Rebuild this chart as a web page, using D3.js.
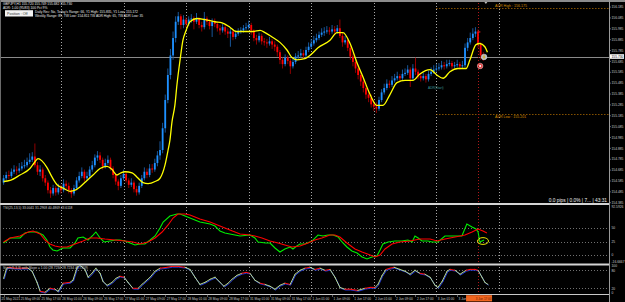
<!DOCTYPE html>
<html>
<head>
<meta charset="utf-8">
<script src="https://cdn.jsdelivr.net/npm/d3@7"></script>
<style>
body{margin:0;background:#000;}
svg{display:block;font-family:"Liberation Sans",Arial,sans-serif;}
</style>
</head>
<body>
<script>
// GBPJPY H1 bars, open of each bar = previous close
var firstOpen = 154.57;
var closes = [154.61,154.64,154.63,154.67,154.69,154.68,154.70,154.72,154.73,154.76,
154.78,154.81,154.73,154.67,154.69,154.61,154.57,154.50,154.47,154.52,
154.48,154.52,154.50,154.56,154.54,154.50,154.47,154.52,154.59,154.63,
154.67,154.61,154.63,154.69,154.73,154.80,154.82,154.78,154.72,154.75,
154.78,154.70,154.64,154.58,154.54,154.61,154.65,154.59,154.55,154.57,
154.51,154.48,154.54,154.61,154.67,154.64,154.70,154.69,154.75,154.82,
154.87,155.07,155.33,155.56,155.74,155.90,156.05,156.10,156.02,156.07,
156.03,156.07,156.08,156.05,156.08,156.02,156.00,156.08,156.05,156.01,
156.05,156.03,155.99,155.97,156.00,155.96,155.94,155.96,155.91,155.94,
155.96,155.97,155.99,156.00,156.02,155.97,155.90,155.88,155.92,155.87,
155.86,155.85,155.87,155.84,155.82,155.77,155.70,155.66,155.72,155.69,
155.64,155.68,155.73,155.74,155.76,155.74,155.79,155.82,155.85,155.88,
155.90,155.93,155.95,155.96,155.97,155.96,155.98,155.96,155.99,155.92,
155.86,155.88,155.81,155.73,155.68,155.62,155.56,155.50,155.44,155.38,
155.35,155.29,155.27,155.25,155.33,155.40,155.44,155.48,155.47,155.51,
155.53,155.55,155.53,155.57,155.58,155.61,155.53,155.62,155.59,155.55,
155.53,155.55,155.52,155.57,155.59,155.61,155.62,155.63,155.65,155.64,
155.66,155.67,155.64,155.65,155.66,155.64,155.65,155.81,155.86,155.90,
155.94,155.96,155.84,155.74,155.72,155.73];
var highs = [154.64,154.67,154.68,154.70,154.73,154.72,154.75,154.76,154.78,154.80,
154.84,154.85,154.93,154.76,154.73,154.71,154.64,154.59,154.53,154.55,
154.54,154.56,154.55,154.60,154.59,154.57,154.52,154.55,154.62,154.67,
154.71,154.69,154.67,154.72,154.77,154.83,154.86,154.85,154.80,154.79,
154.82,154.80,154.72,154.66,154.60,154.64,154.69,154.67,154.61,154.61,
154.59,154.54,154.57,154.64,154.71,154.70,154.74,154.74,154.79,154.86,
154.95,155.12,155.38,155.62,155.80,155.96,156.10,156.14,156.12,156.11,
156.09,156.10,156.12,156.10,156.13,156.09,156.05,156.14,156.10,156.07,
156.08,156.08,156.05,156.02,156.03,156.02,155.99,155.99,155.98,155.97,
155.99,156.00,156.02,156.04,156.06,156.04,155.98,155.93,155.95,155.94,
155.90,155.89,155.91,155.89,155.87,155.84,155.79,155.72,155.75,155.74,
155.71,155.71,155.76,155.78,155.80,155.79,155.82,155.86,155.89,155.92,
155.94,155.96,155.99,156.00,156.01,156.00,156.02,156.01,156.02,156.07,
155.95,155.92,155.90,155.83,155.76,155.70,155.65,155.59,155.53,155.47,
155.42,155.38,155.33,155.31,155.36,155.43,155.48,155.52,155.51,155.55,
155.57,155.59,155.57,155.61,155.62,155.65,155.63,155.66,155.72,155.61,
155.58,155.58,155.57,155.60,155.63,155.65,155.66,155.67,155.69,155.68,
155.70,155.70,155.69,155.68,155.70,155.68,155.69,155.85,155.90,155.95,
155.99,156.00,155.98,155.86,155.77,155.75];
var lows = [154.55,154.59,154.60,154.61,154.65,154.64,154.66,154.68,154.70,154.71,
154.74,154.76,154.71,154.64,154.63,154.58,154.54,154.47,154.43,154.45,
154.45,154.46,154.47,154.48,154.51,154.47,154.43,154.45,154.50,154.57,
154.61,154.58,154.59,154.61,154.67,154.71,154.77,154.75,154.69,154.70,
154.73,154.68,154.61,154.55,154.50,154.52,154.59,154.57,154.52,154.53,
154.48,154.45,154.46,154.52,154.59,154.61,154.62,154.66,154.67,154.72,
154.78,154.84,155.03,155.30,155.52,155.70,155.86,156.02,155.98,155.99,
156.00,156.01,156.04,155.98,156.03,155.99,155.96,155.98,156.02,155.98,
155.91,156.00,155.96,155.93,155.95,155.93,155.90,155.82,155.88,155.89,
155.92,155.94,155.95,155.97,155.98,155.93,155.87,155.84,155.86,155.84,
155.83,155.81,155.83,155.80,155.78,155.73,155.66,155.62,155.64,155.66,
155.57,155.62,155.66,155.70,155.72,155.71,155.72,155.77,155.80,155.83,
155.86,155.88,155.91,155.92,155.94,155.93,155.94,155.93,155.94,155.90,
155.82,155.84,155.78,155.70,155.64,155.58,155.52,155.46,155.40,155.34,
155.31,155.26,155.23,155.21,155.23,155.31,155.38,155.42,155.44,155.45,
155.49,155.51,155.50,155.51,155.55,155.56,155.45,155.51,155.56,155.52,
155.50,155.51,155.49,155.50,155.55,155.57,155.59,155.60,155.61,155.61,
155.62,155.64,155.61,155.62,155.63,155.61,155.62,155.63,155.78,155.84,
155.88,155.91,155.81,155.70,155.69,155.71];

// yellow moving average, [bar, price]
var maPoints = [[0,154.58],[2.5,154.59],[6.3,154.64],[10.1,154.70],[12,154.76],[13.2,154.79],[14.7,154.77],
[16.6,154.71],[18.6,154.62],[20.5,154.55],[22.8,154.52],[25.5,154.49],[27.4,154.50],[29.3,154.53],
[32,154.59],[34.3,154.64],[37,154.70],[39.7,154.72],[41.6,154.69],[43.5,154.64],[45,154.66],
[46.6,154.67],[49.3,154.66],[51.2,154.62],[53.5,154.57],[55.4,154.56],[58.1,154.58],[60,154.61],
[61.9,154.73],[63.1,154.87],[63.8,154.96],[64.6,155.13],[65.7,155.28],[66.5,155.47],[67.7,155.70],
[68.8,155.88],[70,155.97],[71.5,156.05],[74.2,156.08],[77.3,156.07],[81.1,156.05],[83.8,156.04],
[86.8,156.00],[89.1,155.96],[92.6,155.96],[95.7,155.96],[98.4,155.97],[100.3,155.95],[103,155.91],
[106,155.86],[108.7,155.79],[110.6,155.72],[112.5,155.70],[115.6,155.71],[117.5,155.74],[120.6,155.81],
[125.2,155.88],[127.9,155.95],[130.2,155.95],[132.9,155.85],[135.6,155.67],[137.9,155.54],[140.6,155.38],
[143.2,155.28],[145.5,155.28],[148.2,155.38],[150.9,155.49],[154,155.51],[157,155.51],[159.7,155.57],
[163.6,155.61],[166.2,155.56],[168.6,155.53],[171.2,155.59],[174.3,155.62],[177.4,155.62],[178.9,155.70],
[181.2,155.84],[182.7,155.85],[184.6,155.82],[185.6,155.77]];

// TSI panel, [bar, value]
var tsiMain = [[0,22.2],[2.5,31.5],[6.3,31.5],[8.2,40.7],[10.1,42.6],[12.8,42.6],[15.1,37],[16.6,27.8],
[17.8,14.8],[18.9,9.3],[20.5,7.4],[22.8,13],[25.5,13],[27.4,22.2],[28.5,31.5],[30.5,33.3],[32.4,27.8],
[34.3,37],[35.4,42.6],[37,31.5],[38.5,24.1],[40.8,25.9],[43.1,27.8],[44.6,27.8],[46.6,25.9],[48.5,22.2],
[50.4,18.5],[52.3,20.4],[54.2,20.4],[56.2,27.8],[58.1,35.2],[60,50],[61.2,61.1],[63.8,72.2],[66.5,75.9],
[67.7,75.9],[69.6,72.2],[71.5,68.5],[73.4,64.8],[75.3,61.1],[77.3,59.3],[79.2,57.4],[81.1,53.7],[83,44.4],
[84.9,40.7],[86.8,38.9],[90.7,35.2],[94.5,37],[96.4,31.5],[97.6,24.1],[100.6,22.2],[102.2,22.2],[104.1,13],
[106,5.6],[107.9,11.1],[109.9,14.8],[111,11.1],[112.5,16.7],[113.7,20.4],[115.6,20.4],[118.3,25.9],
[120.6,37],[122.5,35.2],[124.4,37],[126.4,37],[128.3,33.3],[129.8,24.1],[131.7,14.8],[133.6,7.4],
[135.6,3.7],[137.5,-3.7],[139.4,-7.4],[141.3,-3.7],[143.2,-1.9],[144.4,9.3],[145.5,20.4],[147.5,24.1],
[150.1,25.9],[152.8,25.9],[155.1,27.8],[156.7,24.1],[157.8,35.2],[159,31.5],[160.5,25.9],[162.8,25.9],
[164.3,24.1],[166.6,24.1],[169.3,35.2],[173.2,35.2],[175.8,35.2],[177.7,57.4],[179.7,51.9],[181.2,48.1],
[182,42.6],[182.7,24.1],[184.3,27.8]];
var tsiSignal = [[0,24.1],[2.5,31.5],[6.3,35.2],[9.4,42.6],[11.3,44.4],[14,38.9],[15.9,27.8],[17.8,20.4],
[19.7,16.7],[21.6,14.8],[24.3,14.8],[27.4,20.4],[30.5,25.9],[33.1,31.5],[35.8,31.5],[38.9,29.6],[42.7,27.8],
[46.6,25.9],[49.6,24.1],[52.3,20.4],[55.4,24.1],[58.1,31.5],[60.8,42.6],[63.1,55.6],[65,68.5],[66.9,75.9],
[69.6,75.9],[71.5,74.1],[73.4,70.4],[75.3,66.7],[79.2,61.1],[83,53.7],[86.8,46.3],[90.7,38.9],[94.5,37],
[96.4,35.2],[99.1,31.5],[102.2,25.9],[105.3,22.2],[107.9,18.5],[110.6,14.8],[113.7,16.7],[116.8,22.2],
[119.4,27.8],[122.1,31.5],[125.2,37],[127.1,37],[129,33.3],[131.7,22.2],[134.8,11.1],[137.5,5.6],
[140.6,0],[142.5,-3.7],[144.4,0],[146.3,11.1],[149,20.4],[152,24.1],[155.9,25.9],[159.7,29.6],[163.6,29.6],
[166.2,25.9],[169.3,29.6],[173.2,33.3],[177,37],[179.7,42.6],[182,48.1],[183.9,44.4],[185.4,40.7]];
var tsiLevels = [50, 25, 0];

// Stochastic panel, [bar, value]
var stochMain = [[0,53],[1,83],[1.7,90],[4.4,87],[7.1,87],[9.4,87],[10.9,77],[12.8,40],[14,10],[15.9,7],
[17.8,20],[19.7,17],[20.9,10],[22.8,37],[25.5,40],[26.6,47],[28.2,90],[29.3,97],[31.2,83],[32.4,57],
[33.9,70],[35.4,87],[37,70],[38.1,43],[39.7,30],[41.6,40],[43.1,53],[44.6,60],[46.2,57],[47.7,40],
[49.6,20],[51.6,20],[53.1,33],[56.2,57],[58.1,77],[60,87],[62.7,90],[64.6,93],[66.9,93],[69.6,90],
[71.5,83],[73.4,57],[75.3,33],[77.3,40],[79.2,50],[81.1,57],[83,40],[84.5,27],[86.1,37],[87.6,50],
[89.5,63],[91.4,70],[93,73],[94.5,70],[96.4,47],[98.4,37],[100.3,33],[102.2,27],[104.1,17],[106,30],
[107.9,37],[109.9,33],[111.8,67],[113.7,80],[115.6,87],[117.5,90],[119.4,83],[121.4,87],[123.3,80],
[125.2,83],[127.1,57],[129,23],[130.9,17],[132.9,17],[135.9,13],[138.6,20],[140.6,23],[142.5,23],
[143.6,33],[145.2,63],[146.7,83],[148.2,87],[149.8,90],[152,83],[154,77],[155.9,67],[157.8,80],
[159.7,70],[161.6,67],[163.6,57],[165.5,30],[166.6,23],[168.2,43],[170.1,77],[171.2,83],[173.2,80],
[175.1,67],[177.4,80],[178.9,83],[180.8,83],[182,80],[183.5,57],[184.6,40],[185.8,33]];
var stochLevels = [80, 20];

var priceTicks = [156.185,156.085,155.985,155.885,155.785,155.685,155.585,155.485,155.385,155.285,
155.185,155.085,154.985,154.885,154.785,154.685,154.585,154.485,154.385];
var gridBars = [22,46,70,94,118,142,166,190];
var timeLabels = [[0,"25 May 2021"],[6,"25 May 09:00"],[14,"25 May 17:00"],[22,"26 May 01:00"],
[30,"26 May 09:00"],[38,"26 May 17:00"],[46,"27 May 01:00"],[54,"27 May 09:00"],[62,"27 May 17:00"],
[70,"28 May 01:00"],[78,"28 May 09:00"],[86,"28 May 17:00"],[94,"31 May 01:00"],[102,"31 May 09:00"],
[110,"31 May 17:00"],[118,"1 Jun 01:00"],[126,"1 Jun 09:00"],[134,"1 Jun 17:00"],[142,"2 Jun 01:00"],
[150,"2 Jun 09:00"],[158,"2 Jun 17:00"],[166,"3 Jun 01:00"],[174,"3 Jun 09:00"]];
var adrHigh = 156.175, adrLow = 155.201, adrStartBar = 166;
var markerBar = 182, markerLabel = "3 Jun 17:00";

var W = 625, H = 302, right = 609;

var x = d3.scaleLinear().domain([0, 232]).range([3.6, 608.4]);
var y = d3.scaleLinear().domain([154.41, 156.25]).range([200, 0]);
var yTsi = d3.scaleLinear().domain([0, 50]).range([255, 228]);
var yStoch = d3.scaleLinear().domain([0, 100]).range([294.3, 264.3]);

var svg = d3.select("body").append("svg").attr("width", W).attr("height", H);
svg.append("rect").attr("width", W).attr("height", H).attr("fill", "#000");

var defs = svg.append("defs");
function clip(id, y0, h){
  defs.append("clipPath").attr("id", id).append("rect")
    .attr("x", 0).attr("y", y0).attr("width", right).attr("height", h);
}
clip("cMain", 4, 199); clip("cTsi", 205, 59); clip("cSto", 265.5, 28.5);

// vertical grid, all panels
svg.append("g").selectAll("line").data(gridBars).join("line")
  .attr("x1", d => Math.round(x(d)) + 0.5).attr("x2", d => Math.round(x(d)) + 0.5)
  .attr("y1", 3).attr("y2", 294)
  .attr("stroke", "#a8a8a8").attr("stroke-dasharray", "1,2");

var main = svg.append("g").attr("clip-path", "url(#cMain)");

// ADR lines
[adrHigh, adrLow].forEach(function(v){
  main.append("line").attr("x1", x(adrStartBar)).attr("x2", right)
    .attr("y1", Math.round(y(v)) + 0.5).attr("y2", Math.round(y(v)) + 0.5)
    .attr("stroke", "#c87a00").attr("stroke-dasharray", "1,2");
});
main.append("text").attr("x", 495).attr("y", y(adrHigh) - 0.8).attr("font-size", 3.6)
  .attr("fill", "#d98c00").text("ADR High : " + adrHigh.toFixed(3));
main.append("text").attr("x", 495).attr("y", y(adrLow) + 3.5).attr("font-size", 3.6)
  .attr("fill", "#d98c00").text("ADR Low : " + adrLow.toFixed(3));
main.append("text").attr("x", 428).attr("y", 89).attr("font-size", 3.2)
  .attr("fill", "#3a9a9a").text("ADR(Start)");

// bid line
var last = closes[closes.length - 1];
main.append("line").attr("x1", 0).attr("x2", right)
  .attr("y1", Math.round(y(last)) + 0.5).attr("y2", Math.round(y(last)) + 0.5)
  .attr("stroke", "#8a8a8a");

// marker vertical
svg.append("line").attr("x1", Math.round(x(markerBar)) + 0.5).attr("x2", Math.round(x(markerBar)) + 0.5)
  .attr("y1", 3).attr("y2", 294).attr("stroke", "#b01818").attr("stroke-dasharray", "1,2");

// candles
var bars = closes.map(function(c, i){
  return {i: i, o: i ? closes[i - 1] : firstOpen, c: c, h: highs[i], l: lows[i]};
});
var cg = main.append("g");
cg.selectAll("line").data(bars).join("line")
  .attr("x1", d => x(d.i)).attr("x2", d => x(d.i))
  .attr("y1", d => y(d.h)).attr("y2", d => y(d.l))
  .attr("stroke", d => d.c >= d.o ? "#1b5fa8" : "#a00000").attr("stroke-width", 0.9);
cg.selectAll("rect").data(bars).join("rect")
  .attr("x", d => x(d.i) - 0.9).attr("width", 1.8)
  .attr("y", d => y(Math.max(d.o, d.c)))
  .attr("height", d => Math.max(1, Math.abs(y(d.o) - y(d.c))))
  .attr("fill", d => d.c >= d.o ? "#1e90ff" : "#ff0000");

// moving average
main.append("path").datum(maPoints)
  .attr("d", d3.line().x(d => x(d[0])).y(d => y(d[1])).curve(d3.curveMonotoneX))
  .attr("fill", "none").attr("stroke", "#ffff00").attr("stroke-width", 1.3);

// trade marks
main.append("line").attr("x1", x(182.5) - 1).attr("x2", x(182.5) + 1)
  .attr("y1", y(155.956)).attr("y2", y(155.956)).attr("stroke", "#ff2020");
main.append("circle").attr("cx", x(184.3)).attr("cy", y(155.726)).attr("r", 2.8)
  .attr("fill", "#b8b8b8").attr("stroke", "#e8e8e8").attr("stroke-width", 0.5);
main.append("rect").attr("x", x(184.3) - 0.6).attr("y", y(155.726) - 1.4).attr("width", 1.2).attr("height", 2.8)
  .attr("fill", "#e0b000");
main.append("circle").attr("cx", x(182.8)).attr("cy", y(155.643)).attr("r", 2.8)
  .attr("fill", "#e04848").attr("stroke", "#f0c0c0").attr("stroke-width", 0.5);
main.append("circle").attr("cx", x(182.8)).attr("cy", y(155.643)).attr("r", 1)
  .attr("fill", "#fff");

// top-left info
var info = svg.append("g").attr("font-size", 3.3).attr("fill", "#e8e8e8");
info.append("text").attr("x", 3).attr("y", 4.5).text("GBPJPY,H1  155.720 155.749 155.682 155.730");
info.append("text").attr("x", 3).attr("y", 8.8).text("ADR: 1.00 (95/83) 100 Pct 9%");
info.append("text").attr("x", 35).attr("y", 13).text("Daily Rec: No, Today's Range: 66, Y1 High: 155.835, Y1 Low: 155.172");
info.append("text").attr("x", 35).attr("y", 17).text("Weekly Range: 89, TW Low: 154.811 TW ADR High: 65, TW ADR Low: 35");
svg.append("rect").attr("x", 5).attr("y", 10.2).attr("width", 28).attr("height", 6.3).attr("fill", "#f2f2f2");
svg.append("text").attr("x", 7).attr("y", 14.7).attr("font-size", 3.6).attr("fill", "#333").text("Position : Off");

svg.append("text").attr("x", 607).attr("y", 201.5).attr("text-anchor", "end")
  .attr("font-size", 4.8).attr("fill", "#f0f0f0").text("0.0 pips | 0.0% | 7... | 43:31");

// TSI panel
var tg = svg.append("g").attr("clip-path", "url(#cTsi)");
tg.selectAll("line").data(tsiLevels).join("line")
  .attr("x1", 0).attr("x2", right)
  .attr("y1", d => Math.round(yTsi(d)) + 0.5).attr("y2", d => Math.round(yTsi(d)) + 0.5)
  .attr("stroke", "#707070").attr("stroke-dasharray", "1,2");
var tline = d3.line().x(d => x(d[0])).y(d => yTsi(d[1]));
tg.append("path").datum(tsiMain).attr("d", tline)
  .attr("fill", "none").attr("stroke", "#00ee00").attr("stroke-width", 1.1);
tg.append("path").datum(tsiSignal).attr("d", tline)
  .attr("fill", "none").attr("stroke", "#ff0000").attr("stroke-width", 1.1);
tg.append("ellipse").attr("cx", x(183.9)).attr("cy", yTsi(25.9)).attr("rx", 5.5).attr("ry", 3.4)
  .attr("fill", "none").attr("stroke", "#ffff00").attr("stroke-width", 0.9);
svg.append("text").attr("x", 3).attr("y", 208.5).attr("font-size", 3.3).attr("fill", "#d0d0d0")
  .text("TSI(25,13,5) 33.0041 31.2968 40.4869 43.6118");

// Stochastic panel
var sg = svg.append("g").attr("clip-path", "url(#cSto)");
sg.selectAll("line").data(stochLevels).join("line")
  .attr("x1", 0).attr("x2", right)
  .attr("y1", d => Math.round(yStoch(d)) + 0.5).attr("y2", d => Math.round(yStoch(d)) + 0.5)
  .attr("stroke", "#707070").attr("stroke-dasharray", "1,2");
var sline = d3.line().x(d => x(d[0])).y(d => yStoch(d[1]));
sg.append("path").datum(stochMain).attr("d", sline).attr("transform", "translate(0.6,0.8)")
  .attr("fill", "none").attr("stroke", "#2036d8").attr("stroke-width", 1);
var segs = d3.pairs(stochMain);
sg.selectAll("line.seg").data(segs).join("line").attr("class", "seg")
  .attr("x1", d => x(d[0][0])).attr("y1", d => yStoch(d[0][1]))
  .attr("x2", d => x(d[1][0])).attr("y2", d => yStoch(d[1][1]))
  .attr("stroke", d => Math.abs(d[1][1] - d[0][1]) <= 4 ? "#ff1010" : "#b8d890")
  .attr("stroke-width", 1).attr("stroke-linecap", "round");
svg.append("text").attr("x", 3).attr("y", 269).attr("font-size", 3.3).attr("fill", "#d0d0d0")
  .text("Stoch(5,3,3) with Slope = 1.00 (28.7234 28.7234 41.7359)");

// frame and separators
svg.append("rect").attr("x", 0).attr("y", 0).attr("width", W).attr("height", 2).attr("fill", "#8c8c8c");
svg.append("line").attr("x1", 0.5).attr("x2", 0.5).attr("y1", 0).attr("y2", H).attr("stroke", "#6a6a6a");
[204, 264.5].forEach(function(v){
  svg.append("line").attr("x1", 0).attr("x2", right).attr("y1", v).attr("y2", v)
    .attr("stroke", "#d4d4d4").attr("stroke-width", 1.8);
});
svg.append("line").attr("x1", 0).attr("x2", right).attr("y1", 294.5).attr("y2", 294.5)
  .attr("stroke", "#c8c8c8");
svg.append("line").attr("x1", right + 0.5).attr("x2", right + 0.5).attr("y1", 0).attr("y2", H)
  .attr("stroke", "#9a9a9a");
svg.append("path").attr("d", "M" + (x(185) - 1.5) + ",2L" + (x(185) + 1.5) + ",2L" + x(185) + ",4Z")
  .attr("fill", "#bbb");

// right axis
var ax = svg.append("g").attr("font-size", 3.3).attr("fill", "#c8c8c8");
ax.selectAll("text.p").data(priceTicks).join("text").attr("class", "p")
  .attr("x", 611.5).attr("y", d => y(d) + 1.2).text(d => d.toFixed(3));
ax.selectAll("line").data(priceTicks).join("line")
  .attr("x1", right).attr("x2", right + 2).attr("y1", d => y(d)).attr("y2", d => y(d))
  .attr("stroke", "#9a9a9a").attr("stroke-width", 0.6);
svg.append("rect").attr("x", 610).attr("y", y(last) - 2.3).attr("width", 14).attr("height", 4.6).attr("fill", "#fff");
svg.append("text").attr("x", 611.5).attr("y", y(last) + 1.2).attr("font-size", 3.3).attr("fill", "#000")
  .text(last.toFixed(3));
ax.append("text").attr("x", 611.5).attr("y", 207.5).text("92.5926");
ax.selectAll("text.t").data(tsiLevels).join("text").attr("class", "t")
  .attr("x", 611.5).attr("y", d => yTsi(d) + 1.2).text(d => d);
ax.append("text").attr("x", 611.5).attr("y", 262.5).text("-16.6667");
ax.selectAll("text.s").data([100, 80, 20, 0]).join("text").attr("class", "s")
  .attr("x", 611.5).attr("y", d => yStoch(d) + (d == 100 ? 2.4 : d == 0 ? 0 : 1.2)).text(d => d);

// time axis
var tx = svg.append("g").attr("font-size", 3.2).attr("fill", "#c8c8c8");
tx.selectAll("line").data(timeLabels).join("line")
  .attr("x1", d => Math.round(x(d[0])) + 0.5).attr("x2", d => Math.round(x(d[0])) + 0.5)
  .attr("y1", 294.5).attr("y2", 297).attr("stroke", "#9a9a9a").attr("stroke-width", 0.6);
tx.selectAll("text").data(timeLabels).join("text")
  .attr("x", d => d[0] === 0 ? 1.5 : x(d[0]) + 1.4).attr("y", 299.5).text(d => d[1]);
svg.append("rect").attr("x", x(markerBar) - 12).attr("y", 295.2).attr("width", 26).attr("height", 6.2)
  .attr("fill", "#f0641e");
svg.append("text").attr("x", x(markerBar) + 5.5).attr("y", 299.5).attr("text-anchor", "middle")
  .attr("font-size", 3).attr("fill", "#6a2000").text(markerLabel);
</script>
</body>
</html>
